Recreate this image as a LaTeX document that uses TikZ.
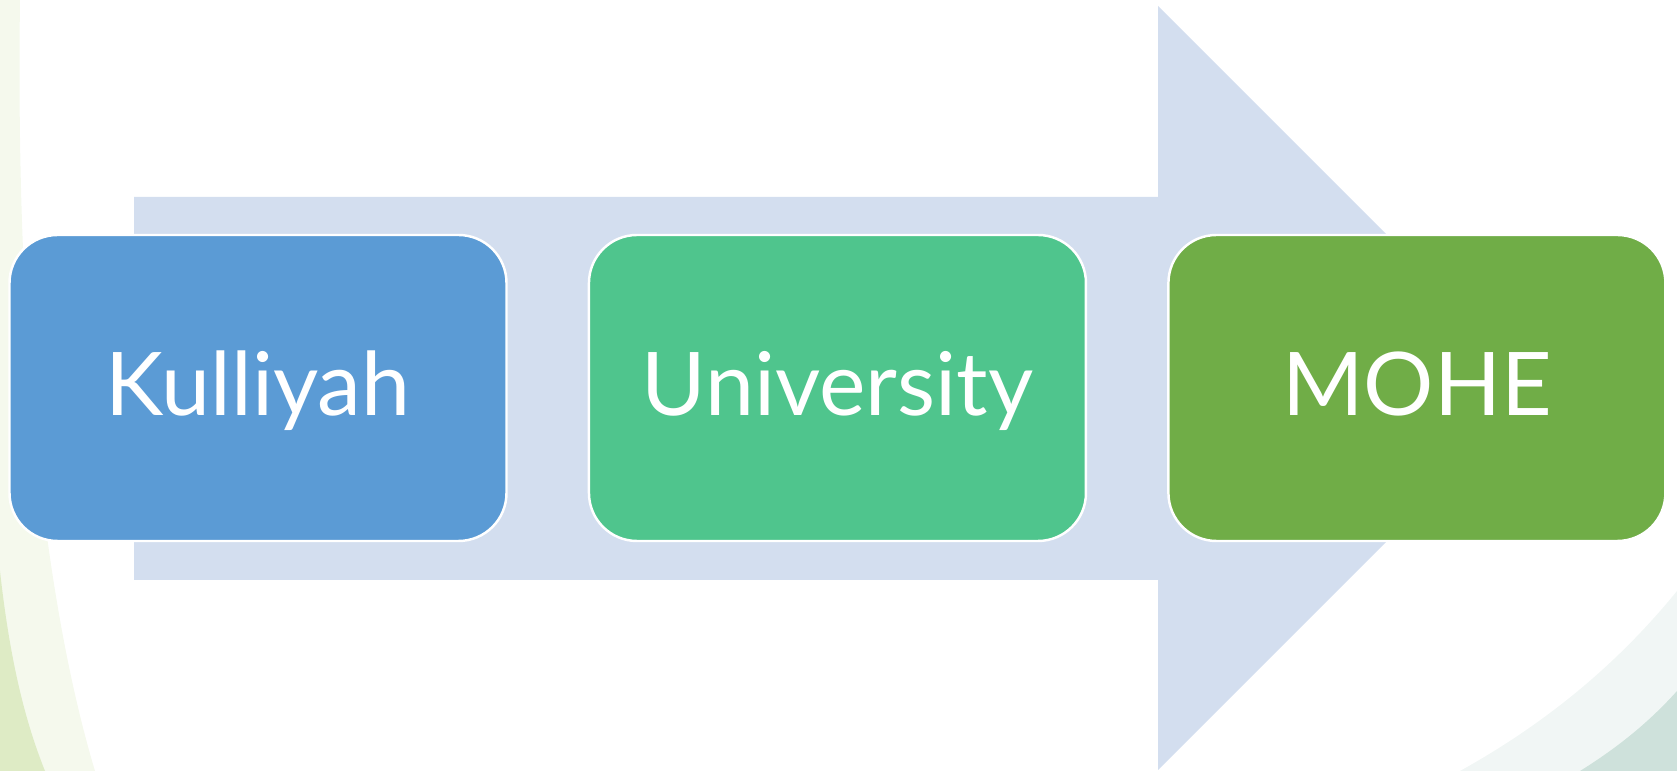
\documentclass[tikz,border=0pt]{standalone}
\usepackage{fontspec}
\setmainfont{Lato}
\usetikzlibrary{positioning}

\definecolor{arrowbg}{HTML}{D3DEEF}
\definecolor{kulblue}{HTML}{5B9BD5}
\definecolor{unigreen}{HTML}{4FC58D}
\definecolor{mohegreen}{HTML}{70AD47}
\definecolor{leafgreen}{HTML}{A9CB6A}
\definecolor{swooshteal}{HTML}{8CB8AA}

\tikzset{
    stagebox/.style={draw=white, line width=0.7pt, rounded corners=0.48cm,
        minimum width=4.97cm, minimum height=3.06cm, text=white,
        text height=0.65cm, text depth=0.1cm,
        font=\fontsize{25}{30}\selectfont}
}

\begin{document}
\begin{tikzpicture}[node distance=0.80cm]
\useasboundingbox (0,0) rectangle (16.77,7.71);
% faint background swooshes
\fill[leafgreen, opacity=0.12] (0,0) -- (0,7.71) -- (0.2,7.71)
    .. controls (0.15,4) and (0.5,1.5) .. (0.95,0) -- cycle;
\fill[leafgreen, opacity=0.3] (0,0) -- (0,2.0)
    .. controls (0.1,1.1) and (0.25,0.5) .. (0.45,0) -- cycle;
\fill[swooshteal, opacity=0.12] (14.6,0) .. controls (15.5,0.5) and (16.2,1.1) .. (16.77,1.8)
    -- (16.77,0) -- cycle;
\fill[swooshteal, opacity=0.35] (15.8,0) .. controls (16.2,0.25) and (16.5,0.5) .. (16.77,0.8)
    -- (16.77,0) -- cycle;
% big arrow behind the boxes
\fill[arrowbg] (1.34,5.74) -- (11.58,5.74) -- (11.58,7.65) -- (15.40,3.83)
    -- (11.58,0.01) -- (11.58,1.91) -- (1.34,1.91) -- cycle;
% the three stages
\node[stagebox, fill=kulblue] (kulliyah) at (2.58,3.83) {Kulliyah};
\node[stagebox, fill=unigreen, right=of kulliyah] (university) {University};
\node[stagebox, fill=mohegreen, right=of university] (mohe) {MOHE};
\end{tikzpicture}
\end{document}
